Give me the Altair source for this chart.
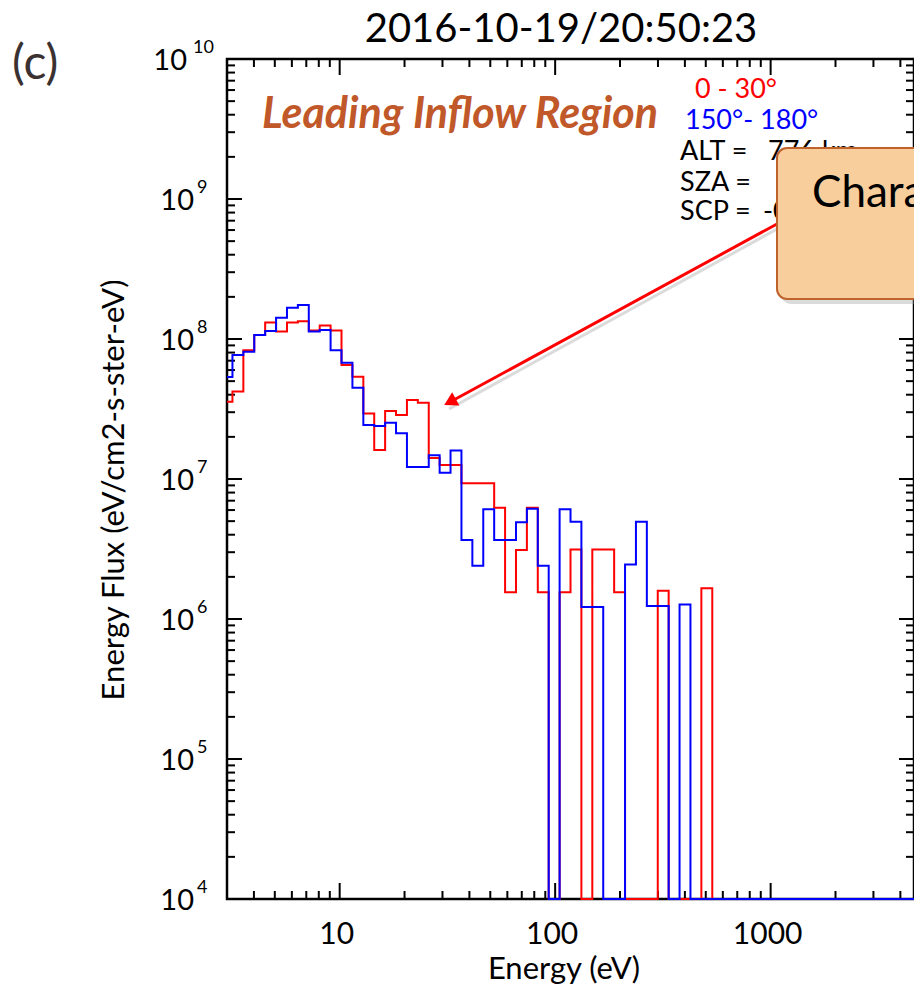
import altair as alt
import pandas as pd

# SWEA-like energy channels (eV), bin centres
energy = [3.000, 3.371, 3.787, 4.255, 4.781, 5.372, 6.036, 6.782, 7.620, 8.562,
          9.620, 10.81, 12.15, 13.65, 15.33, 17.23, 19.36, 21.75, 24.44, 27.46,
          30.85, 34.66, 38.95, 43.76, 49.17, 55.25, 62.08, 69.75, 78.37, 88.05,
          98.93, 111.2, 124.9, 140.3, 157.7, 177.2, 199.1, 223.7, 251.3, 282.4,
          317.3, 356.5, 400.5, 450.0, 505.7, 568.2, 638.4, 717.3, 805.9, 905.5,
          1017, 1143, 1284, 1443, 1621, 1822, 2047, 2300, 2584, 2903,
          3262, 3665, 4118, 4627.5]

# Energy flux, 0-30 deg pitch angles (red); 1e4 = floor of the plot
flux_0_30 = [3.56e7, 4.21e7, 8.30e7, 1.07e8, 1.31e8, 1.13e8, 1.31e8, 1.34e8, 1.15e8, 1.25e8,
             1.15e8, 6.52e7, 5.38e7, 2.94e7, 1.61e7, 3.06e7, 2.86e7, 3.66e7, 3.51e7, 1.41e7,
             1.26e7, 1.26e7, 9.31e6, 9.31e6, 9.31e6, 6.24e6, 1.55e6, 3.11e6, 6.24e6, 1.55e6,
             1e4, 1.55e6, 3.14e6, 1e4, 3.14e6, 3.14e6, 1.55e6, 1e4, 1e4, 1e4,
             1.59e6, 1e4, 1e4, 1e4, 1.66e6, 1e4, 1e4, 1e4, 1e4, 1e4,
             1e4, 1e4, 1e4, 1e4, 1e4, 1e4, 1e4, 1e4, 1e4, 1e4,
             1e4, 1e4, 1e4, 1e4]

# Energy flux, 150-180 deg pitch angles (blue)
flux_150_180 = [5.36e7, 7.69e7, 8.11e7, 1.07e8, 1.14e8, 1.42e8, 1.67e8, 1.75e8, 1.13e8, 1.16e8,
                8.30e7, 6.78e7, 4.49e7, 2.43e7, 2.39e7, 2.52e7, 2.12e7, 1.22e7, 1.22e7, 1.48e7,
                1.11e7, 1.60e7, 3.66e6, 2.40e6, 6.08e6, 3.66e6, 3.66e6, 4.91e6, 6.14e6, 2.40e6,
                1e4, 6.08e6, 4.95e6, 1.22e6, 1.22e6, 1e4, 1e4, 2.45e6, 4.95e6, 1.24e6,
                1.24e6, 1e4, 1.27e6, 1e4, 1e4, 1e4, 1e4, 1e4, 1e4, 1e4,
                1e4, 1e4, 1e4, 1e4, 1e4, 1e4, 1e4, 1e4, 1e4, 1e4,
                1e4, 1e4, 1e4, 1e4]

x_label_values = [10, 100, 1000]
x_label_texts = ["10", "100", "1000"]
x_major_ticks = [10, 100, 1000]
x_minor_ticks = [4, 5, 6, 7, 8, 9, 20, 30, 40, 50, 60, 70, 80, 90,
                 200, 300, 400, 500, 600, 700, 800, 900, 2000, 3000, 4000]
y_decades = [1e4, 1e5, 1e6, 1e7, 1e8, 1e9, 1e10]
y_decades_1digit = [1e4, 1e5, 1e6, 1e7, 1e8, 1e9]
y_exponents_1digit = ["4", "5", "6", "7", "8", "9"]
y_decades_2digit = [1e10]
y_exponents_2digit = ["10"]
y_minor_ticks = [k * d for d in [1e4, 1e5, 1e6, 1e7, 1e8, 1e9] for k in range(2, 10)]

W, H = 687, 840
OX, OY = 227, 59  # plot origin on the page
FONT = "Lato"

xscale = alt.Scale(type="log", domain=[3, 4627.5], nice=False)
yscale = alt.Scale(type="log", domain=[1e4, 1e10], nice=False)

df_red = pd.DataFrame({"energy": energy, "flux": flux_0_30})
df_blue = pd.DataFrame({"energy": energy, "flux": flux_150_180})

red = alt.Chart(df_red).mark_line(interpolate="step", color="#ff0000", strokeWidth=2).encode(
    x=alt.X("energy:Q", scale=xscale, axis=None),
    y=alt.Y("flux:Q", scale=yscale, axis=None))
blue = alt.Chart(df_blue).mark_line(interpolate="step", color="#0000ff", strokeWidth=2).encode(
    x=alt.X("energy:Q", scale=xscale, axis=None),
    y=alt.Y("flux:Q", scale=yscale, axis=None))


def xticks(vals, y0, y1):
    return alt.Chart(pd.DataFrame({"energy": vals})).mark_rule(color="black", strokeWidth=2).encode(
        x=alt.X("energy:Q", scale=xscale, axis=None), y=alt.value(y0), y2=alt.value(y1))


def yticks(vals, x0, x1):
    return alt.Chart(pd.DataFrame({"flux": vals})).mark_rule(color="black", strokeWidth=2).encode(
        y=alt.Y("flux:Q", scale=yscale, axis=None), x=alt.value(x0), x2=alt.value(x1))


ticks = [
    xticks(x_major_ticks, H, H - 16), xticks(x_minor_ticks, H, H - 8),
    xticks(x_major_ticks, 0, 16), xticks(x_minor_ticks, 0, 8),
    yticks(y_decades, 0, 15), yticks(y_minor_ticks, 0, 8),
    yticks(y_decades, W, W - 15), yticks(y_minor_ticks, W, W - 8),
]

# x tick labels
xlab = alt.Chart(pd.DataFrame({"energy": x_label_values, "t": x_label_texts})).mark_text(
    font=FONT, fontSize=30, align="center", baseline="alphabetic", dx=-3, color="black").encode(
    x=alt.X("energy:Q", scale=xscale, axis=None), y=alt.value(944 - OY), text="t:N")


# y tick labels: "10" with a raised exponent
def ylabels(vals, exps, base_right, exp_left):
    d = pd.DataFrame({"flux": vals, "exp": exps})
    base = alt.Chart(d).mark_text(text="10", font=FONT, fontSize=29, align="right",
                                  baseline="alphabetic", dy=11, color="black").encode(
        y=alt.Y("flux:Q", scale=yscale, axis=None), x=alt.value(base_right - OX))
    sup = alt.Chart(d).mark_text(font=FONT, fontSize=18, align="left",
                                 baseline="alphabetic", dy=-6, color="black").encode(
        y=alt.Y("flux:Q", scale=yscale, axis=None), x=alt.value(exp_left - OX), text="exp:N")
    return [base, sup]


ylabs = ylabels(y_decades_1digit, y_exponents_1digit, 194, 197) + \
    ylabels(y_decades_2digit, y_exponents_2digit, 187, 193)


def label(text, x, y, size, color="black", weight="normal", style="normal",
          align="left", baseline="alphabetic", angle=0):
    return alt.Chart(alt.Data(values=[{}])).mark_text(
        text=text, font=FONT, fontSize=size, color=color, fontWeight=weight,
        fontStyle=style, align=align, baseline=baseline, angle=angle).encode(
        x=alt.value(x - OX), y=alt.value(y - OY))


def seg(x0, y0, x1, y1, color, width, opacity=1.0):
    return alt.Chart(alt.Data(values=[{}])).mark_rule(
        color=color, strokeWidth=width, opacity=opacity).encode(
        x=alt.value(x0 - OX), y=alt.value(y0 - OY), x2=alt.value(x1 - OX), y2=alt.value(y1 - OY))


def box(x0, y0, x1, y1, fill, stroke=None, opacity=1.0):
    kw = dict(fill=fill, cornerRadius=10, opacity=opacity)
    if stroke:
        kw.update(stroke=stroke, strokeWidth=2)
    return alt.Chart(alt.Data(values=[{}])).mark_rect(**kw).encode(
        x=alt.value(x0 - OX), y=alt.value(y0 - OY), x2=alt.value(x1 - OX), y2=alt.value(y1 - OY))


arrow_head = alt.Chart(alt.Data(values=[{}])).mark_point(
    shape="triangle-up", filled=True, color="#ff0000", opacity=1, size=230, angle=241.6).encode(
    x=alt.value(450 - OX), y=alt.value(402 - OY))

annotations = [
    label("(c)", 12, 79, 48, color="#3b3131"),
    label("2016-10-19/20:50:23", 561, 42, 40, align="center"),
    label("Energy Flux (eV/cm2-s-ster-eV)", 115, 490, 31, align="center",
          baseline="middle", angle=270),
    label("Energy (eV)", 564, 979, 31, align="center"),
    label("Leading Inflow Region", 262, 128, 43, color="#c0582a", weight="bold", style="italic"),
    label("0 - 30°", 695, 98, 27, color="#ff0000"),
    label("150°- 180°", 685, 129, 27, color="#0000ff"),
    label("ALT =", 680, 160, 27),
    label("776 km", 768, 160, 27),
    label("SZA =", 680, 191, 27),
    label("SCP =", 680, 220, 27),
    label("-0.4 V", 763, 220, 27),
    seg(779, 228, 449, 409, "#999999", 3, 0.35),
    seg(777, 224, 450, 402, "#ff0000", 3),
    arrow_head,
    box(781, 153, 940, 304, "#999999", opacity=0.35),
    box(777, 148, 935, 299, "#f7ce9c", stroke="#c0622c"),
    label("Characteristic", 812, 207, 44),
]

chart = alt.layer(*ticks, red, blue, xlab, *ylabs, *annotations).properties(
    width=W, height=H,
    autosize=alt.AutoSizeParams(type="none"),
    padding={"left": OX - 8, "top": OY - 8, "right": 0, "bottom": 86},
).configure_view(stroke="black", strokeWidth=2.5)

chart.save("out.html", embed_options={"renderer": "svg", "actions": False})
